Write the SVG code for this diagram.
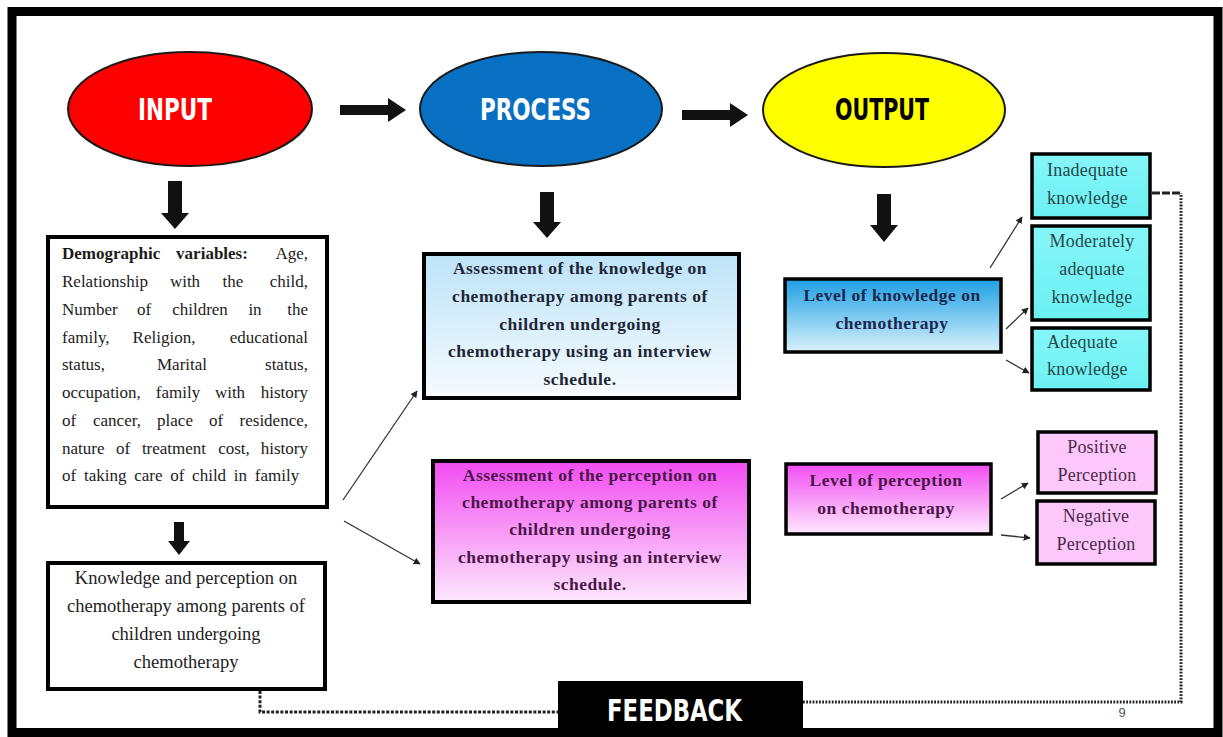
<svg xmlns="http://www.w3.org/2000/svg" width="1223" height="737" viewBox="0 0 1223 737">
<defs>
<linearGradient id="gBlueLight" x1="0" y1="0" x2="0" y2="1">
<stop offset="0" stop-color="#bde3f8"/><stop offset="1" stop-color="#f6fbfe"/>
</linearGradient>
<linearGradient id="gBlueLevel" x1="0" y1="0" x2="0" y2="1">
<stop offset="0" stop-color="#1f9fe2"/><stop offset="0.5" stop-color="#79c8f0"/><stop offset="1" stop-color="#dcf2fc"/>
</linearGradient>
<linearGradient id="gMagenta" x1="0" y1="0" x2="0" y2="1">
<stop offset="0" stop-color="#f24cf2"/><stop offset="1" stop-color="#fde8fd"/>
</linearGradient>
<linearGradient id="gCyan" x1="0" y1="0" x2="0" y2="1">
<stop offset="0" stop-color="#86f6f8"/><stop offset="1" stop-color="#6cf0f2"/>
</linearGradient>
<marker id="ah" viewBox="0 0 10 10" refX="9" refY="5" markerWidth="7" markerHeight="7" orient="auto" markerUnits="userSpaceOnUse">
<path d="M0,0 L10,5 L0,10 z" fill="#222"/>
</marker>
<style>
.frame{fill:none;stroke:#000;stroke-width:9}
.ell{stroke:#1a1a1a;stroke-width:2}
.head{font-family:"DejaVu Sans Condensed","DejaVu Sans",sans-serif;font-weight:bold;font-size:31px}
.blk{fill:#111}
.box{stroke:#000;stroke-width:4}
.sbox{stroke:#000;stroke-width:3.5}
.ser{font-family:"Liberation Serif","Times New Roman",serif;font-size:17px;fill:#1c1c1c}
.ser18{font-family:"Liberation Serif","Times New Roman",serif;font-size:18.5px;fill:#222}
.bser{font-family:"Liberation Serif","Times New Roman",serif;font-weight:bold;font-size:17.5px;letter-spacing:0.5px}
.small{font-family:"Liberation Serif","Times New Roman",serif;font-size:18px;letter-spacing:0.2px}
.thin{stroke:#333;stroke-width:1.3;fill:none;marker-end:url(#ah)}
.dotL{fill:none;stroke:#222;stroke-width:3;stroke-dasharray:3 1.6}
.dotR{fill:none;stroke:#222;stroke-width:3;stroke-dasharray:1.8 1.4}
.mid{text-anchor:middle}
.end{text-anchor:end}
</style>
</defs>
<rect x="0" y="0" width="1223" height="737" fill="#fff"/>
<rect class="frame" x="12" y="11.5" width="1206" height="721"/>

<g id="input">
<ellipse class="ell" cx="190" cy="109" rx="122" ry="57" fill="#ff0000"/>
<text class="head" x="138" y="120" fill="#fff" textLength="74" lengthAdjust="spacingAndGlyphs">INPUT</text>
</g>
<g id="process">
<ellipse class="ell" cx="541" cy="109" rx="121" ry="57" fill="#0870c2"/>
<text class="head" x="480" y="120" fill="#fff" textLength="111" lengthAdjust="spacingAndGlyphs">PROCESS</text>
</g>
<g id="output">
<ellipse class="ell" cx="884" cy="110" rx="121" ry="57" fill="#ffff00"/>
<text class="head" x="835" y="120" fill="#000" textLength="94" lengthAdjust="spacingAndGlyphs">OUTPUT</text>
</g>

<g id="demographic">
<rect class="box" x="48" y="237" width="279" height="270" fill="#fff"/>
<text class="ser" x="62" y="259" font-weight="bold">Demographic</text>
<text class="ser mid" x="212" y="259" font-weight="bold">variables:</text>
<text class="ser end" x="308" y="259">Age,</text>
<text class="ser" x="62" y="287">Relationship</text>
<text class="ser mid" x="185" y="287">with</text>
<text class="ser mid" x="233" y="287">the</text>
<text class="ser end" x="308" y="287">child,</text>
<text class="ser" x="62" y="315">Number</text>
<text class="ser mid" x="144" y="315">of</text>
<text class="ser mid" x="200" y="315">children</text>
<text class="ser mid" x="255" y="315">in</text>
<text class="ser end" x="308" y="315">the</text>
<text class="ser" x="62" y="343">family,</text>
<text class="ser mid" x="164" y="343">Religion,</text>
<text class="ser end" x="308" y="343">educational</text>
<text class="ser" x="62" y="370">status,</text>
<text class="ser mid" x="182" y="370">Marital</text>
<text class="ser end" x="308" y="370">status,</text>
<text class="ser" x="62" y="398">occupation,</text>
<text class="ser mid" x="178" y="398">family</text>
<text class="ser mid" x="230" y="398">with</text>
<text class="ser end" x="308" y="398">history</text>
<text class="ser" x="62" y="426">of</text>
<text class="ser mid" x="117" y="426">cancer,</text>
<text class="ser mid" x="175" y="426">place</text>
<text class="ser mid" x="216" y="426">of</text>
<text class="ser end" x="308" y="426">residence,</text>
<text class="ser" x="62" y="454">nature</text>
<text class="ser mid" x="123" y="454">of</text>
<text class="ser mid" x="174" y="454">treatment</text>
<text class="ser mid" x="234" y="454">cost,</text>
<text class="ser end" x="308" y="454">history</text>
<text class="ser" x="62" y="481" word-spacing="3.5">of taking care of child in family</text>
</g>

<g id="knowledge-perception">
<rect class="box" x="48" y="563" width="277" height="126" fill="#fff"/>
<text class="ser18 mid" x="186" y="584">Knowledge and perception on</text>
<text class="ser18 mid" x="186" y="612">chemotherapy among parents of</text>
<text class="ser18 mid" x="186" y="640">children undergoing</text>
<text class="ser18 mid" x="186" y="668">chemotherapy</text>
</g>

<g id="assess-knowledge">
<rect class="box" x="424" y="254" width="315" height="144" fill="url(#gBlueLight)"/>
<text class="bser mid" x="580" y="274" fill="#1e2636">Assessment of the knowledge on</text>
<text class="bser mid" x="580" y="302" fill="#1e2636">chemotherapy among parents of</text>
<text class="bser mid" x="580" y="330" fill="#1e2636">children undergoing</text>
<text class="bser mid" x="580" y="357" fill="#1e2636">chemotherapy using an interview</text>
<text class="bser mid" x="580" y="385" fill="#1e2636">schedule.</text>
</g>

<g id="assess-perception">
<rect class="box" x="433" y="461" width="316" height="141" fill="url(#gMagenta)"/>
<text class="bser mid" x="590" y="481" fill="#4a1648">Assessment of the perception on</text>
<text class="bser mid" x="590" y="508" fill="#4a1648">chemotherapy among parents of</text>
<text class="bser mid" x="590" y="535" fill="#4a1648">children undergoing</text>
<text class="bser mid" x="590" y="563" fill="#4a1648">chemotherapy using an interview</text>
<text class="bser mid" x="590" y="590" fill="#4a1648">schedule.</text>
</g>

<g id="level-knowledge">
<rect class="sbox" x="785" y="279" width="216" height="73" fill="url(#gBlueLevel)"/>
<text class="bser mid" x="892" y="301" fill="#1a2850">Level of knowledge on</text>
<text class="bser mid" x="892" y="329" fill="#1a2850">chemotherapy</text>
</g>

<g id="level-perception">
<rect class="sbox" x="786" y="464" width="205" height="70" fill="url(#gMagenta)"/>
<text class="bser mid" x="886" y="486" fill="#4a1648">Level of perception</text>
<text class="bser mid" x="886" y="514" fill="#4a1648">on chemotherapy</text>
</g>

<g id="inadequate">
<rect class="sbox" x="1032" y="154" width="118" height="64" fill="url(#gCyan)"/>
<text class="small" x="1047" y="176" fill="#24484a">Inadequate</text>
<text class="small" x="1047" y="204" fill="#24484a">knowledge</text>
</g>
<g id="moderate">
<rect class="sbox" x="1032" y="226" width="118" height="94" fill="url(#gCyan)"/>
<text class="small mid" x="1092" y="247" fill="#24484a">Moderately</text>
<text class="small mid" x="1092" y="275" fill="#24484a">adequate</text>
<text class="small mid" x="1092" y="303" fill="#24484a">knowledge</text>
</g>
<g id="adequate">
<rect class="sbox" x="1032" y="328" width="118" height="62" fill="url(#gCyan)"/>
<text class="small" x="1047" y="348" fill="#24484a">Adequate</text>
<text class="small" x="1047" y="375" fill="#24484a">knowledge</text>
</g>
<g id="positive">
<rect class="sbox" x="1038" y="432" width="118" height="61" fill="#fcc8fc"/>
<text class="small mid" x="1097" y="453" fill="#4a2a48">Positive</text>
<text class="small mid" x="1097" y="481" fill="#4a2a48">Perception</text>
</g>
<g id="negative">
<rect class="sbox" x="1037" y="501" width="118" height="63" fill="#fcc8fc"/>
<text class="small mid" x="1096" y="522" fill="#4a2a48">Negative</text>
<text class="small mid" x="1096" y="550" fill="#4a2a48">Perception</text>
</g>

<g id="feedback">
<rect x="558" y="681" width="245" height="50" fill="#000"/>
<text class="head" x="607" y="721" fill="#fff" font-size="36" textLength="135" lengthAdjust="spacingAndGlyphs">FEEDBACK</text>
</g>

<g id="connectors">
<polygon class="blk" points="340,105 388,105 388,98 406,110 388,122 388,115 340,115"/>
<polygon class="blk" points="682,110 730,110 730,103 748,115 730,127 730,120 682,120"/>
<polygon class="blk" points="168,181 182,181 182,213 189,213 175,229 161,213 168,213"/>
<polygon class="blk" points="540,192 554,192 554,222 561,222 547,238 533,222 540,222"/>
<polygon class="blk" points="877,194 891,194 891,225 898,225 884,242 870,225 877,225"/>
<polygon class="blk" points="174,522 184,522 184,541 190,541 179,555 168,541 174,541"/>
<line class="thin" x1="343" y1="500" x2="417" y2="391"/>
<line class="thin" x1="344" y1="521" x2="420" y2="564"/>
<line class="thin" x1="990" y1="268" x2="1022" y2="217"/>
<line class="thin" x1="1006" y1="329" x2="1028" y2="308"/>
<line class="thin" x1="1006" y1="360" x2="1029" y2="373"/>
<line class="thin" x1="1001" y1="499" x2="1028" y2="483"/>
<line class="thin" x1="1001" y1="535" x2="1030" y2="538"/>
<path class="dotL" d="M260,691 V712 H558"/>
<path class="dotR" d="M803,702 H1181 V193"/>
<path d="M1152,193 H1181" fill="none" stroke="#222" stroke-width="3" stroke-dasharray="8 2"/>
</g>
<text x="1122" y="717" font-family="Liberation Sans, Arial, sans-serif" font-size="13" fill="#555" text-anchor="middle">9</text>
</svg>
